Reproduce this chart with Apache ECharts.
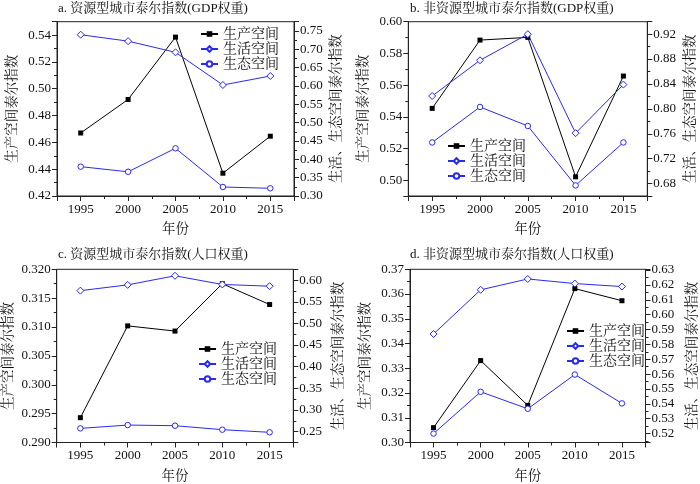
<!DOCTYPE html>
<html><head><meta charset="utf-8">
<script src="https://cdn.jsdelivr.net/npm/echarts@6/dist/echarts.min.js"></script>
<style>html,body{margin:0;padding:0;background:#fff}#c{width:700px;height:484px}</style>
</head><body><div id="c"></div>
<script>
// ---- data ----
const years = [1995, 2000, 2005, 2010, 2015];
const seriesNames = ['生产空间', '生活空间', '生态空间'];
const panelTitles = ['a. 资源型城市泰尔指数(GDP权重)', 'b. 非资源型城市泰尔指数(GDP权重)',
                     'c. 资源型城市泰尔指数(人口权重)', 'd. 非资源型城市泰尔指数(人口权重)'];
const leftAxisName = '生产空间泰尔指数';
const rightAxisName = '生活、生态空间泰尔指数';
const xAxisName = '年份';

const aProduction = [0.467, 0.492, 0.5385, 0.437, 0.4646];
const aLiving     = [0.7395, 0.722, 0.6915, 0.6025, 0.627];
const aEcology    = [0.380, 0.366, 0.430, 0.3245, 0.321];

const bProduction = [0.5453, 0.5884, 0.5901, 0.5021, 0.5657];
const bLiving     = [0.8206, 0.878, 0.920, 0.761, 0.839];
const bEcology    = [0.746, 0.803, 0.7725, 0.677, 0.746];

const cProduction = [0.2943, 0.3102, 0.3093, 0.3175, 0.3139];
const cLiving     = [0.5757, 0.589, 0.610, 0.590, 0.586];
const cEcology    = [0.2576, 0.2653, 0.2638, 0.2546, 0.2485];

const dProduction = [0.306, 0.3331, 0.315, 0.3622, 0.3573];
const dLiving     = [0.587, 0.6167, 0.624, 0.6209, 0.6189];
const dEcology    = [0.520, 0.5481, 0.5367, 0.5597, 0.5403];

// axis extents: [min, max, tick step, decimals]
const leftScales  = [[0.42, 0.55, 0.02, 2], [0.49, 0.60, 0.02, 2], [0.29, 0.32, 0.005, 3], [0.30, 0.37, 0.01, 2]];
const rightScales = [[0.30, 0.775, 0.05, 2], [0.66, 0.94, 0.04, 2], [0.225, 0.625, 0.05, 2], [0.514, 0.6305, 0.01, 2]];
const xScale = [1992.5, 2017.5, 5, 0];

const panelData = [
  [aProduction, aLiving, aEcology],
  [bProduction, bLiving, bEcology],
  [cProduction, cLiving, cEcology],
  [dProduction, dLiving, dEcology]
];

// ---- layout / style ----
const FONT = "'Liberation Serif', 'Noto Serif CJK SC', 'Noto Sans CJK SC', serif";
const TXT = '#111';
const BLUE = '#2a2af0';
const grids = [
  {left: 57, right: 406, top: 21.7, bottom: 288},
  {left: 408.3, right: 52.7, top: 21.7, bottom: 288},
  {left: 56.7, right: 406.7, top: 269.3, bottom: 40.3},
  {left: 410, right: 51.7, top: 269.3, bottom: 40.3}
];
const titlePos = [[58, 2], [410, 2], [58, 248.5], [410, 248.5]];
const legendPos = [[200, 27], [447, 139], [198, 342], [566, 324]];
const leftGaps = [38, 38, 41, 38];
const rightGaps = [36, 36, 38, 40];

function fmt(step, dec) {
  return function (v) {
    const r = v / step;
    return Math.abs(r - Math.round(r)) < 1e-6 ? v.toFixed(dec) : '';
  };
}
function valueAxis(sc, extra) {
  return Object.assign({
    type: 'value', min: sc[0], max: sc[1], minInterval: sc[2], maxInterval: sc[2], splitNumber: 6,
    axisLine: {show: true, lineStyle: {color: '#222', width: 1}},
    axisTick: {show: true, length: 5, lineStyle: {color: '#222'}},
    minorTick: {show: true, splitNumber: 2, length: 3, lineStyle: {color: '#222'}},
    splitLine: {show: false},
    axisLabel: {formatter: fmt(sc[2], sc[3]), fontFamily: FONT, fontSize: 13, color: TXT, margin: 6},
    nameLocation: 'middle',
    nameTextStyle: {fontFamily: FONT, fontSize: 13.5, color: TXT}
  }, extra);
}

const option = {
  backgroundColor: '#fff',
  animation: false,
  title: [], grid: [], xAxis: [], yAxis: [], legend: [], series: []
};

for (let i = 0; i < 4; i++) {
  option.title.push({
    text: panelTitles[i], left: titlePos[i][0], top: titlePos[i][1], padding: 0,
    textStyle: {fontFamily: FONT, fontSize: 13, fontWeight: 'normal', color: TXT}
  });
  option.grid.push(Object.assign({show: true, borderColor: '#222', borderWidth: 1, backgroundColor: 'transparent'}, grids[i]));
  const xa = valueAxis(xScale, {gridIndex: i, name: xAxisName, nameGap: 27});
  xa.axisLabel = Object.assign({}, xa.axisLabel, {margin: 7});
  option.xAxis.push(xa);
  option.yAxis.push(valueAxis(leftScales[i], {gridIndex: i, position: 'left', name: leftAxisName, nameGap: leftGaps[i]}));
  option.yAxis.push(valueAxis(rightScales[i], {gridIndex: i, position: 'right', name: rightAxisName, nameGap: rightGaps[i]}));
  option.legend.push({
    orient: 'vertical', left: legendPos[i][0], top: legendPos[i][1], padding: 0,
    itemGap: 1, itemWidth: 17, itemHeight: 7, selectedMode: false,
    textStyle: {fontFamily: FONT, fontSize: 14, color: TXT},
    data: seriesNames
  });
  const d = panelData[i];
  const mk = (vals) => years.map((y, k) => [y, vals[k]]);
  option.series.push({
    name: seriesNames[0], type: 'line', xAxisIndex: i, yAxisIndex: 2 * i, data: mk(d[0]),
    symbol: 'rect', symbolSize: 5, lineStyle: {color: '#000', width: 1},
    itemStyle: {color: '#000'}
  });
  option.series.push({
    name: seriesNames[1], type: 'line', xAxisIndex: i, yAxisIndex: 2 * i + 1, data: mk(d[1]),
    symbol: 'diamond', symbolSize: 7, lineStyle: {color: BLUE, width: 1},
    itemStyle: {color: '#fff', borderColor: BLUE, borderWidth: 1}
  });
  option.series.push({
    name: seriesNames[2], type: 'line', xAxisIndex: i, yAxisIndex: 2 * i + 1, data: mk(d[2]),
    symbol: 'circle', symbolSize: 5.5, lineStyle: {color: BLUE, width: 1},
    itemStyle: {color: '#fff', borderColor: BLUE, borderWidth: 1}
  });
}

const chart = echarts.init(document.getElementById('c'), null, {renderer: 'canvas'});
chart.setOption(option);
</script>
</body></html>
